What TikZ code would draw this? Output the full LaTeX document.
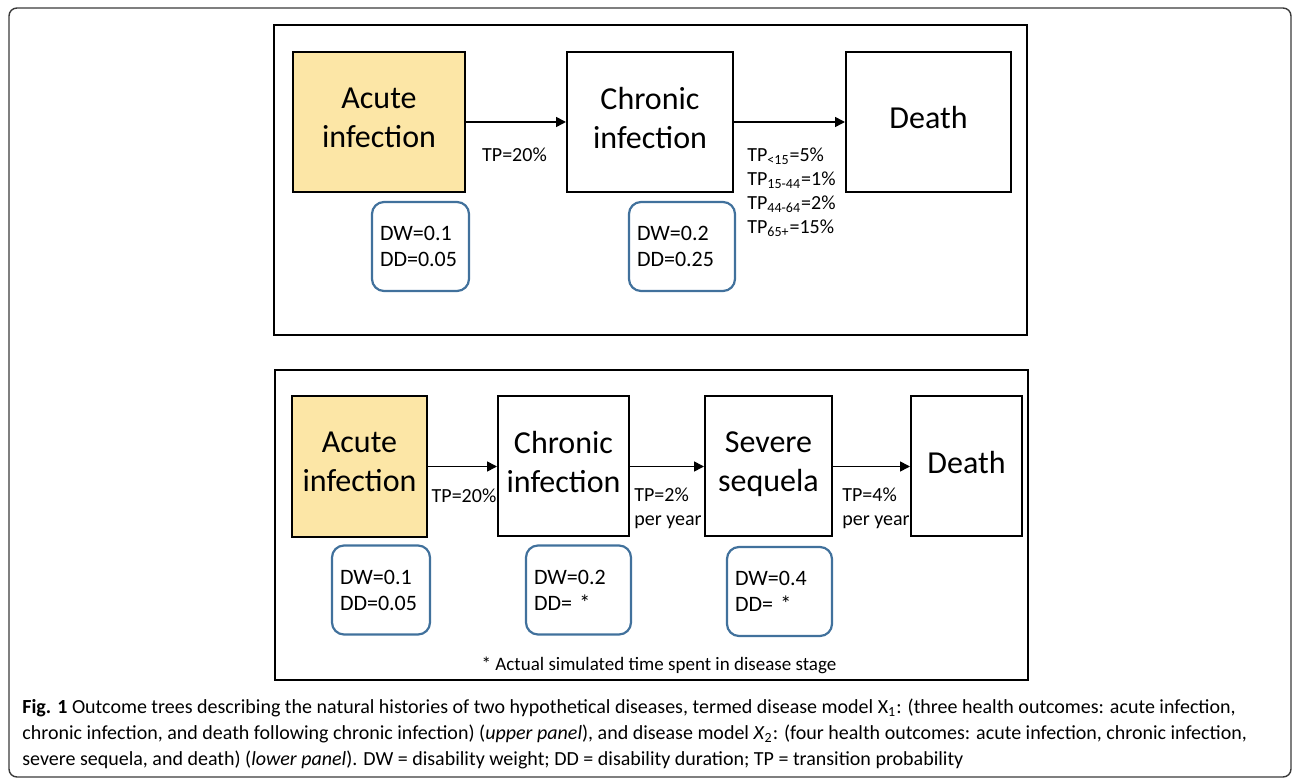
\documentclass[tikz,border=0pt]{standalone}
\usepackage{fontspec}
\setmainfont{Carlito}
\usetikzlibrary{arrows.meta}

\definecolor{acutefill}{HTML}{FCE6A6}
\definecolor{dwblue}{HTML}{41719C}
\definecolor{framegray}{HTML}{3A3A3A}

\tikzset{
  stage/.style={draw, line width=1pt, align=center, inner sep=0pt, text depth=4.5pt,
    font=\fontsize{16}{19.5}\selectfont},
  acute/.style={stage, fill=acutefill},
  dwbox/.style={draw=dwblue, line width=1.1pt, rounded corners=6pt, align=left,
    inner xsep=4pt, inner ysep=0pt, text width=#1, minimum height=44.5pt,
    font=\fontsize{11}{13}\selectfont},
  tplabel/.style={align=left, inner sep=0pt, font=\fontsize{10}{12}\selectfont},
  flow/.style={-{Triangle[length=5pt,width=5pt]}, line width=0.8pt},
  panel/.style={draw, line width=1.1pt},
  caption/.style={align=left, inner sep=0pt, font=\fontsize{10}{13}\selectfont}
}

\begin{document}
\begin{tikzpicture}[x=0.5pt, y=-0.5pt]
            \useasboundingbox (0,0) rectangle (1292,780);
            % outer frame
            \draw[framegray, line width=0.7pt, rounded corners=4pt] (9,8) rectangle (1291,777);

            % Upper panel: model X1
            \draw[panel] (274,25) rectangle (1027,335);
            \node[acute, minimum width=86pt, minimum height=70pt] (uacute) at (379,122) {Acute\\infection};
            \node[stage, minimum width=83pt, minimum height=70pt] (uchronic) at (650,122) {Chronic\\infection};
            \node[stage, minimum width=82.5pt, minimum height=70pt] (udeath) at (928.5,122) {Death};
            \node[dwbox=40.5pt] (udw1) at (420.5,246.5) {DW=0.1\\DD=0.05};
            \node[dwbox=45pt] (udw2) at (682,246.5) {DW=0.2\\DD=0.25};
            \draw[flow] (uacute) -- (uchronic);
            \draw[flow] (uchronic) -- (udeath);
            \node[tplabel] (utp1) at (514.5,155) {TP=20\%};
            \node[tplabel, anchor=west] (utp2) at (747,192.5)
              {TP\textsubscript{<15}=5\%\\TP\textsubscript{15-44}=1\%\\TP\textsubscript{44-64}=2\%\\TP\textsubscript{65+}=15\%};

            % Lower panel: model X2
            \draw[panel] (275,370) rectangle (1028,680);
            \node[acute, minimum width=67.5pt, minimum height=70.5pt] (lacute) at (359.5,466.5) {Acute\\infection};
            \node[stage, minimum width=65.5pt, minimum height=70pt] (lchronic) at (563.5,466.5) {Chronic\\infection};
            \node[stage, minimum width=63.5pt, minimum height=70pt] (lsevere) at (768.5,466.5) {Severe\\sequela};
            \node[stage, minimum width=55.5pt, minimum height=70pt] (ldeath) at (966.5,466.5) {Death};
            \node[dwbox=41pt] (ldw1) at (381,590) {DW=0.1\\DD=0.05};
            \node[dwbox=44.5pt] (ldw2) at (578.5,590) {DW=0.2\\DD= *};
            \node[dwbox=44.5pt] (ldw3) at (779.5,591.5) {DW=0.4\\DD= *};
            \draw[flow] (lacute) -- (lchronic);
            \draw[flow] (lchronic) -- (lsevere);
            \draw[flow] (lsevere) -- (ldeath);
            \node[tplabel] (ltp1) at (464,496) {TP=20\%};
            \node[tplabel, anchor=west] (ltp2) at (634,508.5) {TP=2\%\\per year};
            \node[tplabel, anchor=west] (ltp3) at (842,508.5) {TP=4\%\\per year};
            \node[tplabel, font=\fontsize{9.5}{12}\selectfont] (note) at (659,665) {* Actual simulated time spent in disease stage};

            % Caption
            \node[caption, anchor=west] (cap) at (22,734)
              {\textbf{Fig. 1} Outcome trees describing the natural histories of two hypothetical diseases, termed disease model X\textsubscript{1}: (three health outcomes: acute infection,\\
               chronic infection, and death following chronic infection) (\textit{upper panel}), and disease model \textit{X}\textsubscript{2}: (four health outcomes: acute infection, chronic infection,\\
               severe sequela, and death) (\textit{lower panel}). DW = disability weight; DD = disability duration; TP = transition probability};
        \end{tikzpicture}
\end{document}
